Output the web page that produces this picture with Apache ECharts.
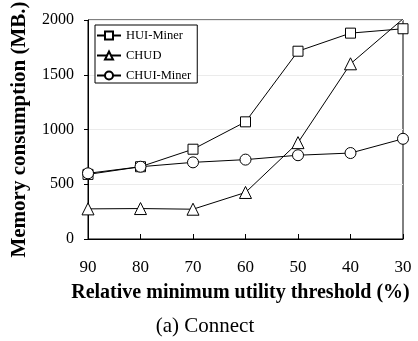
<!DOCTYPE html>
<html>
<head>
<meta charset="utf-8">
<script src="https://cdn.jsdelivr.net/npm/echarts@6/dist/echarts.min.js"></script>
<style>html,body{margin:0;padding:0;background:#fff}#c{width:418px;height:341px}</style>
</head>
<body>
<div id="c"></div>
<script>
// Relative minimum utility threshold (%) categories
const thresholds = ['90', '80', '70', '60', '50', '40', '30'];
// Memory consumption (MB.) per algorithm
const huiMiner = [590, 660, 820, 1070, 1715, 1880, 1920];
const chud = [275, 278, 272, 425, 880, 1600, 2010];
const chuiMiner = [600, 660, 700, 725, 765, 785, 915];
const yTicks = [0, 500, 1000, 1500, 2000];

const serif = '"Liberation Serif", "DejaVu Serif", serif';

function mkSeries(name, data, symbol, size) {
  return {
    name, type: 'line', data, symbol, symbolSize: size, clip: true,
    lineStyle: { color: '#000', width: 1 },
    itemStyle: { color: '#fff', borderColor: '#000', borderWidth: 1 },
    emphasis: { disabled: true },
    animation: false
  };
}

const chart = echarts.init(document.getElementById('c'));
chart.setOption({
  backgroundColor: '#fff',
  animation: false,
  grid: {
    left: 88, right: 15, top: 20, bottom: 102, containLabel: false, outerBoundsMode: 'none',
    show: true, borderColor: '#000', borderWidth: 1
  },
  legend: {
    left: 95, top: 25, orient: 'vertical', itemGap: 7, itemWidth: 24, itemHeight: 10,
    padding: [4, 6, 1, 1],
    borderColor: '#000', borderWidth: 1, backgroundColor: '#fff',
    textStyle: { fontFamily: serif, fontSize: 12.5, color: '#000' },
    data: ['HUI-Miner', 'CHUD', 'CHUI-Miner']
  },
  xAxis: {
    type: 'category', data: thresholds, boundaryGap: false,
    axisLine: { lineStyle: { color: '#000', width: 1 } },
    axisTick: { inside: true, length: 5, lineStyle: { color: '#000' } },
    axisLabel: { fontFamily: serif, fontSize: 17, color: '#000', margin: 20 },
    name: 'Relative minimum utility threshold (%)', nameLocation: 'middle', nameGap: 44,
    nameMoveOverlap: false,
    nameTextStyle: { fontFamily: serif, fontSize: 20, fontWeight: 'bold', color: '#000', padding: [0, 10, 0, 0] }
  },
  yAxis: {
    type: 'value', min: yTicks[0], max: yTicks[yTicks.length - 1], interval: 500,
    axisLine: { show: true, lineStyle: { color: '#000', width: 1 } },
    axisTick: { show: true, length: 4, lineStyle: { color: '#000' } },
    splitLine: { show: true, lineStyle: { color: '#ebebeb', width: 1 } },
    axisLabel: { fontFamily: serif, fontSize: 16, color: '#000', margin: 14, formatter: v => String(v) },
    name: 'Memory consumption (MB.)', nameLocation: 'middle', nameGap: 58,
    nameMoveOverlap: false,
    nameTextStyle: { fontFamily: serif, fontSize: 21, fontWeight: 'bold', color: '#000' }
  },
  series: [
    mkSeries('HUI-Miner', huiMiner, 'rect', 10),
    mkSeries('CHUD', chud, 'triangle', 12),
    mkSeries('CHUI-Miner', chuiMiner, 'circle', 11)
  ],
  graphic: [{
    type: 'text', x: 205, y: 326,
    style: { text: '(a) Connect', font: '21px ' + serif, fill: '#000', textAlign: 'center', textVerticalAlign: 'middle' }
  }]
});
</script>
</body>
</html>
